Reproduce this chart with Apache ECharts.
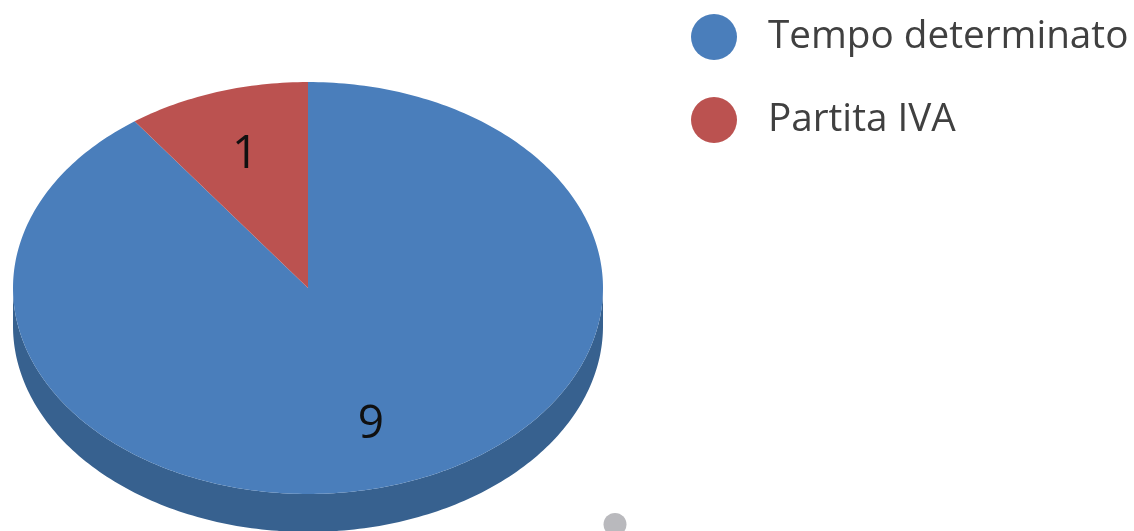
<!DOCTYPE html>
<html>
<head>
<meta charset="utf-8">
<style>
  html, body { margin: 0; padding: 0; background: #fff; }
  #chart { width: 1134px; height: 531px; }
</style>
<script src="https://cdn.jsdelivr.net/npm/echarts@6/dist/echarts.min.js"></script>
</head>
<body>
<div id="chart"></div>
<script>
var categories = ['Tempo determinato', 'Partita IVA'];
var values = [9, 1];
var topColors = ['#4a7ebb', '#bb5250'];
var sideColors = ['#37618f', '#8c3836'];

// the tilted pie: ECharts pies are always round, so this one is a custom series
var cx = 308, cy = 288, rx = 295, ry = 206, depth = 38;
var total = values[0] + values[1];

function pointAt(deg, dy) {
  var a = deg * Math.PI / 180;
  return [cx + rx * Math.sin(a), cy + dy - ry * Math.cos(a)];
}

function arcPoints(from, to, dy) {
  var pts = [];
  var n = Math.max(2, Math.ceil(Math.abs(to - from)));
  for (var i = 0; i <= n; i++) {
    pts.push(pointAt(from + (to - from) * i / n, dy));
  }
  return pts;
}

function startAngle(idx) {
  var sum = 0;
  for (var i = 0; i < idx; i++) sum += values[i];
  return sum / total * 360;
}

function makeRenderItem(idx) {
  return function (params, api) {
    var from = startAngle(idx);
    var to = from + api.value(0) / total * 360;
    var children = [];

    // side wall, only the front half of the rim can be seen
    var sideFrom = Math.max(from, 90), sideTo = Math.min(to, 270);
    if (sideTo > sideFrom) {
      children.push({
        type: 'polygon',
        shape: { points: arcPoints(sideFrom, sideTo, 0).concat(arcPoints(sideTo, sideFrom, depth)) },
        style: { fill: sideColors[idx] }
      });
    }

    children.push({
      type: 'polygon',
      shape: { points: [[cx, cy]].concat(arcPoints(from, to, 0)) },
      style: { fill: topColors[idx] }
    });

    var mid = (from + to) / 2 * Math.PI / 180;
    children.push({
      type: 'text',
      style: {
        text: String(api.value(0)),
        x: cx + rx * 0.69 * Math.sin(mid),
        y: cy - ry * 0.69 * Math.cos(mid) + 2,
        align: 'center',
        verticalAlign: 'middle',
        fill: '#101010',
        font: '46px "Open Sans"'
      }
    });
    return { type: 'group', children: children };
  };
}

var myChart = echarts.init(document.getElementById('chart'));
myChart.setOption({
  animation: false,
  legend: {
    data: categories,
    orient: 'vertical',
    left: 691,
    top: 14,
    padding: 0,
    icon: 'circle',
    itemWidth: 46,
    itemHeight: 46,
    itemGap: 37,
    textStyle: {
      fontFamily: 'Open Sans',
      fontSize: 38.7,
      color: '#404040',
      padding: [4, 0, 0, 26]
    }
  },
  graphic: [{
    type: 'circle',
    shape: { cx: 615, cy: 524.5, r: 11.5 },
    style: { fill: '#b9b9bd' }
  }],
  series: categories.map(function (name, i) {
    return {
      type: 'custom',
      name: name,
      coordinateSystem: 'none',
      data: [[values[i]]],
      itemStyle: { color: topColors[i] },
      renderItem: makeRenderItem(i)
    };
  })
});
</script>
</body>
</html>
